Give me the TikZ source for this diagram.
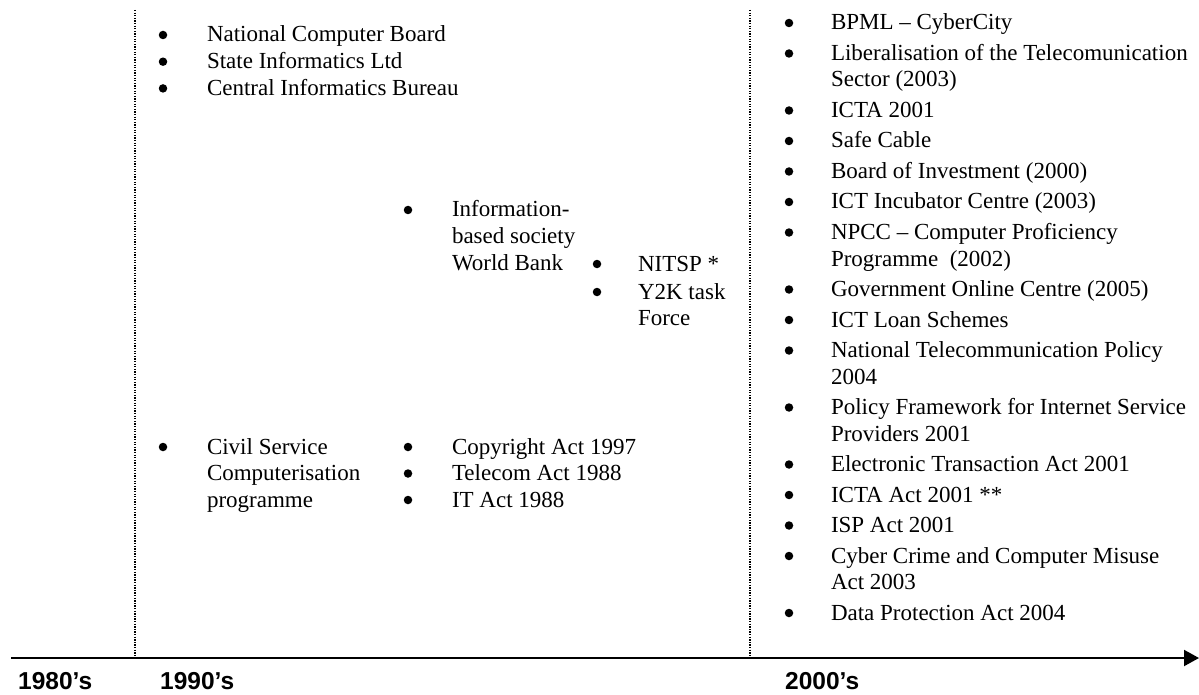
\documentclass[tikz,border=0pt]{standalone}
\usepackage{fontspec}
\setmainfont{Liberation Serif}
\newfontfamily\labfont{Liberation Sans}
\usetikzlibrary{arrows.meta}
\tikzset{
  txt/.style={anchor=base west, inner sep=0pt, outer sep=0pt, font=\fontsize{23}{26.5}\selectfont},
  bul/.style={circle, fill=black, draw=none, minimum size=8.5pt, inner sep=0pt},
  era/.style={anchor=base west, inner sep=0pt, font=\labfont\bfseries\fontsize{24.5}{27}\selectfont},
  divider/.style={line width=1.3pt, dash pattern=on 1.3pt off 1.3pt},
  timeaxis/.style={line width=2pt, -{Triangle[length=15pt, width=16pt]}}
}
\newcommand{\bitem}[5]{%
  \node[bul] (#1b) at (#2,#4-7) {};
  \node[txt] (#1) at (#3,#4) {#5};}
\begin{document}
\begin{tikzpicture}[x=1pt,y=-1pt]
\useasboundingbox (0,0) rectangle (1199,695);
% dividers
\coordinate (d1t) at (135,10); \coordinate (d1b) at (135,657);
\coordinate (d2t) at (750,10); \coordinate (d2b) at (750,657);
\draw[divider] (d1t) -- (d1b);
\draw[divider] (d2t) -- (d2b);
% axis
\coordinate (ax0) at (11,658); \coordinate (ax1) at (1199,658);
\draw[timeaxis] (ax0) -- (ax1);
\node[era] (e80) at (18,689) {1980’s};
\node[era] (e90) at (160,689) {1990’s};
\node[era] (e00) at (785,689) {2000’s};
% 1990s top
\bitem{ncb}{163}{207}{42}{National Computer Board}
\bitem{sil}{163}{207}{68.7}{State Informatics Ltd}
\bitem{cib}{163}{207}{95.4}{Central Informatics Bureau}
% information society
\bitem{ibs}{408}{452}{217}{Information-}
\node[txt] (ibs2) at (452,243.5) {based society};
\node[txt] (ibs3) at (452,270) {World Bank};
\bitem{nitsp}{597}{638}{271}{NITSP *}
\bitem{y2k}{597}{638}{299}{Y2K task}
\node[txt] (y2k2) at (638,325.5) {Force};
% civil service
\bitem{csc}{163}{207}{454}{Civil Service}
\node[txt] (csc2) at (207,480.5) {Computerisation};
\node[txt] (csc3) at (207,507) {programme};
\bitem{cpa}{408}{452}{454}{Copyright Act 1997}
\bitem{tla}{408}{452}{480.5}{Telecom Act 1988}
\bitem{ita}{408}{452}{507}{IT Act 1988}
% 2000s
\bitem{r1}{789}{831}{30}{BPML – CyberCity}
\bitem{r2}{789}{831}{60.5}{Liberalisation of the Telecomunication}
\node[txt] (r2b2) at (831,87) {Sector (2003)};
\bitem{r3}{789}{831}{117.5}{ICTA 2001}
\bitem{r4}{789}{831}{148}{Safe Cable}
\bitem{r5}{789}{831}{178.5}{Board of Investment (2000)}
\bitem{r6}{789}{831}{209}{ICT Incubator Centre (2003)}
\bitem{r7}{789}{831}{239.5}{NPCC – Computer Proficiency}
\node[txt] (r7b2) at (831,266) {Programme\ \ (2002)};
\bitem{r8}{789}{831}{296.5}{Government Online Centre (2005)}
\bitem{r9}{789}{831}{327}{ICT Loan Schemes}
\bitem{r10}{789}{831}{357.5}{National Telecommunication Policy}
\node[txt] (r10b2) at (831,384) {2004};
\bitem{r11}{789}{831}{414.5}{Policy Framework for Internet Service}
\node[txt] (r11b2) at (831,441) {Providers 2001};
\bitem{r12}{789}{831}{471.5}{Electronic Transaction Act 2001}
\bitem{r13}{789}{831}{502}{ICTA Act 2001 **}
\bitem{r14}{789}{831}{532.5}{ISP Act 2001}
\bitem{r15}{789}{831}{563}{Cyber Crime and Computer Misuse}
\node[txt] (r15b2) at (831,589.5) {Act 2003};
\bitem{r16}{789}{831}{620}{Data Protection Act 2004}
\end{tikzpicture}
\end{document}
